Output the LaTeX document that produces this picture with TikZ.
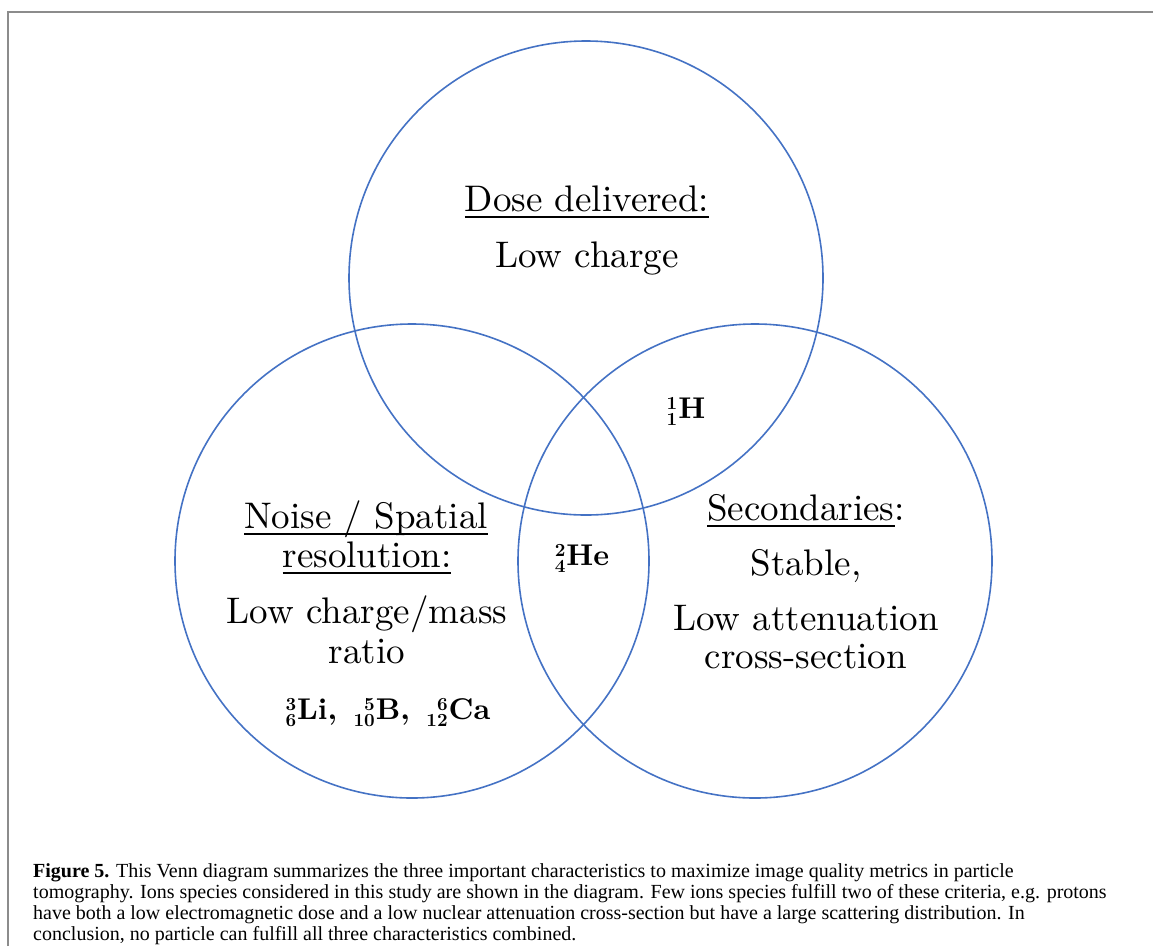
\documentclass[tikz,border=0pt]{standalone}
\usepackage{fontspec}
\newfontfamily\capfont{Liberation Serif}
\newfontfamily\vennfont[BoldFont=lmroman10-bold.otf]{lmroman10-regular.otf}
\definecolor{vennblue}{HTML}{4472C4}
\definecolor{framegray}{HTML}{8C8C8C}
\newsavebox{\ulbox}
\newsavebox{\supbox}
\newsavebox{\subbox}
\newlength{\isow}
\newcommand{\labelul}[1]{\sbox{\ulbox}{#1}\rlap{\rule[-6.5pt]{\wd\ulbox}{1.6pt}}\usebox{\ulbox}}
\newcommand{\nucnum}[1]{{\fontsize{18.5}{19}\selectfont #1}}
\newcommand{\isotope}[3]{%
	\sbox{\supbox}{\nucnum{#1}}\sbox{\subbox}{\nucnum{#2}}%
	\ifdim\wd\supbox>\wd\subbox \setlength{\isow}{\wd\supbox}\else\setlength{\isow}{\wd\subbox}\fi
	\makebox[\isow][r]{\raisebox{8.5pt}{\usebox{\supbox}}}\llap{\raisebox{-7pt}{\usebox{\subbox}}}\hspace{1pt}#3}

\begin{document}
\begin{tikzpicture}[x=1pt, y=-1pt,
	ring/.style={circle, draw=vennblue, line width=1.6pt, minimum size=474pt, inner sep=0pt},
	txt/.style={anchor=base, inner sep=0pt, font=\vennfont\fontsize{37}{42}\selectfont},
	iso/.style={anchor=base, inner sep=0pt, font=\vennfont\fontsize{30}{34}\selectfont\bfseries},
	caption/.style={anchor=base west, inner sep=0pt, font=\capfont\fontsize{20}{21}\selectfont}]
	\useasboundingbox (0,0) rectangle (1153,946);

	% frame
	\draw[framegray, line width=2pt] (8,946) -- (8,12) -- (1153,12);

	%% the three sets
	\node[ring] (dose) at (586,278) {};
	\node[ring] (noise) at (412,561) {};
	\node[ring] (sec) at (755,561) {};

	% dose delivered
	\node[txt] (dosetitle) at (587,211) {\labelul{Dose delivered:}};
	\node[txt] (dosebody) at (587,267) {Low charge};

	% noise / spatial resolution
	\node[txt] (noisetitle) at (366,528) {\labelul{Noise / Spatial}};
	\node[txt] (noisetitleb) at (367,567) {\labelul{resolution:}};
	\node[txt] (noisebody) at (367,623) {Low charge/mass};
	\node[txt] (noisebodyb) at (367,663) {ratio};
	\node[iso] (noiseions) at (388,719) {\isotope{3}{6}{Li},\hspace{5pt} \isotope{5}{10}{B},\hspace{5pt} \isotope{6}{12}{Ca}};

	% secondaries
	\node[txt] (sectitle) at (806,520) {\labelul{Secondaries}:};
	\node[txt] (secbody) at (806,575) {Stable,};
	\node[txt] (secbodyb) at (806,630) {Low attenuation};
	\node[txt] (secbodyc) at (806,668) {cross-section};

	% overlaps
	\node[iso] (hydrogen) at (686,418) {\isotope{1}{1}{H}};
	\node[iso] (helium) at (582,565) {\isotope{2}{4}{He}};

	%% caption
	\node[caption] (capa) at (33,877) {\textbf{Figure 5.} This Venn diagram summarizes the three important characteristics to maximize image quality metrics in particle};
	\node[caption] (capb) at (33,898) {tomography. Ions species considered in this study are shown in the diagram. Few ions species fulfill two of these criteria, e.g. protons};
	\node[caption] (capc) at (33,919) {have both a low electromagnetic dose and a low nuclear attenuation cross-section but have a large scattering distribution. In};
	\node[caption] (capd) at (33,940) {conclusion, no particle can fulfill all three characteristics combined.};
\end{tikzpicture}
\end{document}
